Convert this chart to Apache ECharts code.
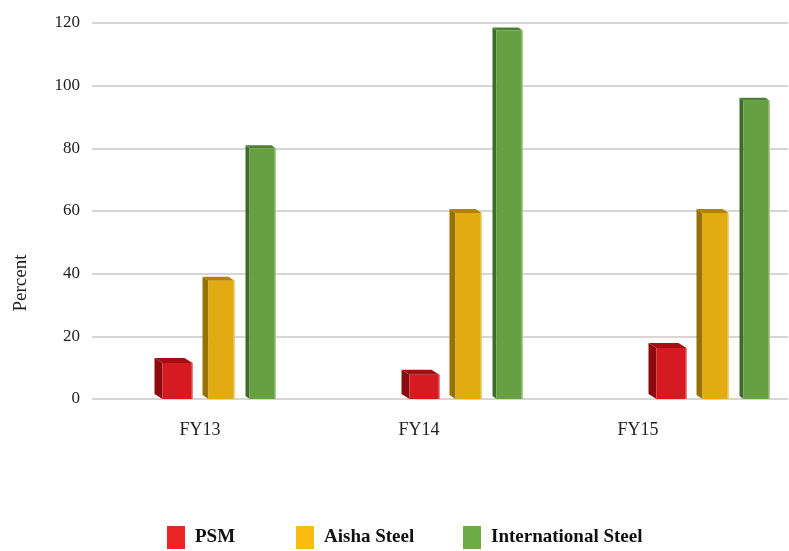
<!DOCTYPE html>
<html>
<head>
<meta charset="utf-8">
<script src="https://cdn.jsdelivr.net/npm/echarts@6/dist/echarts.min.js"></script>
<style>
html, body { margin: 0; padding: 0; background: #fff; }
#main { width: 789px; height: 551px; }
</style>
</head>
<body>
<div id="main"></div>
<script>
// data
var categories = ['FY13', 'FY14', 'FY15'];
var psm = [11.5, 7.7, 16.3];
var aisha = [37.7, 59.4, 59.4];
var intl = [80.0, 117.6, 95.2];
var yMin = 0, yMax = 120, yStep = 20;

var FONT = '"Liberation Serif", "DejaVu Serif", serif';

// draws one bar with a dark left side and a top face
function makeBar(cfg) {
    return function (params, api) {
        var c = api.coord([api.value(0), api.value(1)]);
        var base = api.coord([api.value(0), 0]);
        var x0 = c[0] + cfg.off, x1 = x0 + cfg.w;
        var yt = c[1], yb = base[1];
        var d = cfg.d, h = cfg.h;
        return {
            type: 'group',
            children: [
                { type: 'polygon', shape: { points: [[x0, yt], [x0 - d, yt - h], [x0 - d, yb - h], [x0, yb]] }, style: { fill: cfg.side } },
                { type: 'polygon', shape: { points: [[x0, yt], [x1, yt], [x1 - d, yt - h], [x0 - d, yt - h]] }, style: { fill: cfg.top } },
                { type: 'rect', shape: { x: x0, y: yt, width: cfg.w, height: yb - yt }, style: { fill: cfg.front } },
                { type: 'line', shape: { x1: x1 - 0.5, y1: yt, x2: x1 - 0.5, y2: yb }, style: { stroke: cfg.edge, lineWidth: 1 } }
            ]
        };
    };
}

function toData(arr) {
    return arr.map(function (v, i) { return [i, v]; });
}

function barSeries(name, arr, legendColor, cfg) {
    return {
        name: name,
        type: 'custom',
        xAxisIndex: 2,
        yAxisIndex: 2,
        itemStyle: { color: legendColor },
        encode: { x: 0, y: 1 },
        data: toData(arr),
        renderItem: makeBar(cfg),
        silent: true
    };
}

function legendItem(name, left) {
    return {
        data: [name],
        left: left,
        top: 526,
        padding: 0,
        icon: 'rect',
        itemWidth: 18,
        itemHeight: 23,
        selectedMode: false,
        textStyle: { fontFamily: FONT, fontWeight: 'bold', fontSize: 19, color: '#111', padding: [0, 0, 0, 5] }
    };
}

var hiddenY = { type: 'value', min: yMin, max: yMax, interval: yStep, show: false };

var chart = echarts.init(document.getElementById('main'));
chart.setOption({
    animation: false,
    grid: [
        { left: 92, width: 696, top: 23, bottom: 152, outerBoundsMode: 'none' },
        { left: 90.5, width: 657, top: 23, bottom: 152, outerBoundsMode: 'none' },
        { left: 89, width: 741, top: 23, bottom: 152, outerBoundsMode: 'none' }
    ],
    xAxis: [
        { type: 'category', gridIndex: 0, data: categories, show: false },
        {
            type: 'category', gridIndex: 1, data: categories,
            axisLine: { show: false }, axisTick: { show: false },
            axisLabel: { margin: 22, fontFamily: FONT, fontSize: 18, color: '#222' }
        },
        { type: 'category', gridIndex: 2, data: categories, show: false }
    ],
    yAxis: [
        {
            type: 'value', gridIndex: 0, min: yMin, max: yMax, interval: yStep,
            axisLine: { show: false }, axisTick: { show: false },
            axisLabel: { margin: 12, fontFamily: FONT, fontSize: 17, color: '#222' },
            splitLine: { lineStyle: { color: '#c8c8c8', width: 1.5 } }
        },
        Object.assign({ gridIndex: 1 }, hiddenY),
        Object.assign({ gridIndex: 2 }, hiddenY)
    ],
    legend: [
        legendItem('PSM', 167),
        legendItem('Aisha Steel', 296),
        legendItem('International Steel', 463)
    ],
    graphic: [{
        type: 'text',
        x: 21,
        y: 283,
        rotation: Math.PI / 2,
        style: {
            text: 'Percent',
            font: '19px ' + FONT,
            fill: '#222',
            align: 'center',
            verticalAlign: 'middle'
        }
    }],
    series: [
        barSeries('PSM', psm, '#ee2326', { off: -50, w: 30, d: 8, h: 5, front: '#d51a22', side: '#8c0a0e', top: '#a50e13', edge: '#e8737a' }),
        barSeries('Aisha Steel', aisha, '#fbba12', { off: -4, w: 26, d: 6, h: 4, front: '#e2ab14', side: '#977200', top: '#b08300', edge: '#f0d27a' }),
        barSeries('International Steel', intl, '#6eab45', { off: 37, w: 26, d: 4, h: 3, front: '#66a042', side: '#3d6c28', top: '#4c7f31', edge: '#a6cc8d' })
    ]
});
</script>
</body>
</html>
